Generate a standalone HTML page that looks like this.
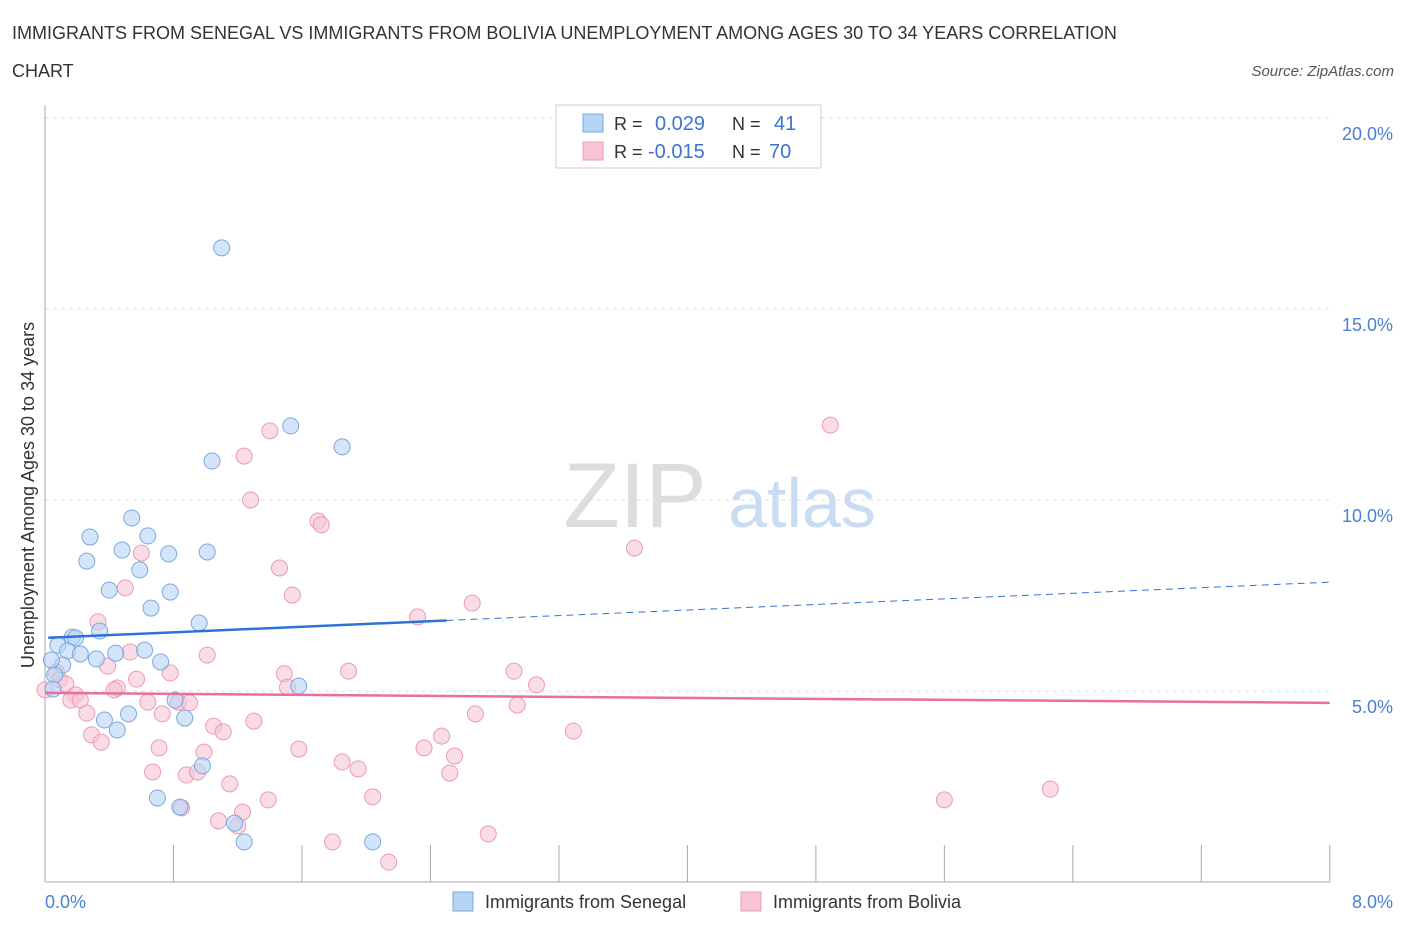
<!DOCTYPE html>
<html><head><meta charset="utf-8"><style>
body{margin:0;background:#fff;font-family:"Liberation Sans",sans-serif;}
svg text{font-family:"Liberation Sans",sans-serif;}
</style></head><body>
<svg id="chart" width="1406" height="930" xmlns="http://www.w3.org/2000/svg">
<text x="12" y="39" font-size="18" fill="#333">IMMIGRANTS FROM SENEGAL VS IMMIGRANTS FROM BOLIVIA UNEMPLOYMENT AMONG AGES 30 TO 34 YEARS CORRELATION</text>
<text x="12" y="77" font-size="18" fill="#333">CHART</text>
<text x="1394" y="76" font-size="15" fill="#555" font-style="italic" text-anchor="end">Source: ZipAtlas.com</text>
<text x="635" y="527" font-size="92" fill="#ddd" font-family="Liberation Serif" text-anchor="middle">ZIP</text>
<text x="802" y="527" font-size="70" fill="#c9dcf3" text-anchor="middle">atlas</text>
<text transform="translate(34,495) rotate(-90)" font-size="18" fill="#333" text-anchor="middle">Unemployment Among Ages 30 to 34 years</text>
<g id="grid"></g><g id="ticks"></g>
<line x1="45" y1="105" x2="45" y2="882" stroke="#aaa"/>
<line x1="45" y1="882" x2="1330" y2="882" stroke="#aaa"/>
<text x="45" y="908" font-size="18" fill="#4a7fd4">0.0%</text>
<text x="1393" y="908" font-size="18" fill="#4a7fd4" text-anchor="end">8.0%</text>
<g id="pts"></g><g id="lines"></g>
<g>
<rect x="556" y="105" width="265" height="63" fill="#fff" stroke="#ccc"/>
<rect x="583" y="114" width="20" height="18" fill="#b8d4f5" stroke="#7aa9e0"/>
<rect x="583" y="142" width="20" height="18" fill="#f7c5d5" stroke="#eb9bb7"/>
<text x="614" y="130" font-size="18" fill="#333">R = </text><text x="655" y="130" font-size="20" fill="#3b74d1">0.029</text>
<text x="732" y="130" font-size="18" fill="#333">N = </text><text x="774" y="130" font-size="20" fill="#3b74d1">41</text>
<text x="614" y="158" font-size="18" fill="#333">R = </text><text x="648" y="158" font-size="20" fill="#3b74d1">-0.015</text>
<text x="732" y="158" font-size="18" fill="#333">N = </text><text x="769" y="158" font-size="20" fill="#3b74d1">70</text>
</g>
<g><rect x="453" y="892" width="20" height="19" fill="#b8d4f5" stroke="#7aa9e0"/><text x="485" y="908" font-size="18" fill="#333">Immigrants from Senegal</text></g>
<g><rect x="741" y="892" width="20" height="19" fill="#f7c5d5" stroke="#eb9bb7"/><text x="773" y="908" font-size="18" fill="#333">Immigrants from Bolivia</text></g>
</svg>
<script>
const yTicks=[5,10,15,20];
const yTickLabels=["5.0%","10.0%","15.0%","20.0%"];
const xTicks=[0.8,1.6,2.4,3.2,4.0,4.8,5.6,6.4,7.2,8.0];
const senegalX=[1.10,1.53,1.85,1.04,0.54,0.64,0.28,0.48,0.77,1.01,0.26,0.59,0.40,0.78,0.66,0.96,0.17,0.19,0.34,0.08,0.14,0.22,0.44,0.62,0.32,0.72,0.11,0.04,0.06,1.58,0.05,0.81,0.37,0.52,0.87,0.45,0.98,0.70,0.84,1.18,1.24,2.04];
const senegalY=[16.60,11.94,11.39,11.02,9.53,9.06,9.03,8.69,8.59,8.64,8.40,8.17,7.64,7.59,7.17,6.78,6.41,6.39,6.57,6.20,6.05,5.97,5.99,6.07,5.84,5.76,5.68,5.81,5.42,5.13,5.05,4.76,4.24,4.40,4.29,3.98,3.04,2.20,1.96,1.54,1.05,1.05];
const boliviaX=[4.89,1.40,1.24,1.28,1.70,1.72,3.67,0.60,1.46,0.50,1.54,2.32,2.66,0.33,1.01,0.53,0.39,1.49,1.89,2.92,0.78,3.06,0.57,0.07,0.09,0.13,1.51,0.45,0.43,0.19,0.16,0.22,0.83,0.90,0.64,2.94,2.68,0.26,0.73,1.30,1.05,1.11,3.29,0.29,2.47,0.35,0.71,1.58,2.36,0.99,2.55,1.85,1.95,0.67,0.88,0.95,2.52,1.15,2.04,1.39,5.60,6.26,1.23,0.85,1.08,1.20,2.76,1.79,2.14,0.00];
const boliviaY=[11.96,11.81,11.15,10.00,9.45,9.35,8.74,8.61,8.22,7.70,7.51,6.94,7.30,6.81,5.94,6.02,5.65,5.45,5.52,5.52,5.47,5.16,5.31,5.50,5.29,5.18,5.10,5.08,5.03,4.90,4.76,4.76,4.71,4.69,4.71,4.63,4.40,4.42,4.40,4.21,4.08,3.93,3.95,3.85,3.82,3.66,3.51,3.48,3.51,3.40,3.30,3.14,2.96,2.88,2.80,2.88,2.85,2.57,2.23,2.15,2.15,2.43,1.83,1.94,1.60,1.47,1.26,1.05,0.52,5.03];
const senegalTrend=[6.39,7.85];
const boliviaTrend=[4.95,4.69];
const NS="http://www.w3.org/2000/svg";
const sx=v=>45+v*160.6, sy=v=>882-v*38.2;
function mk(t,a,p){const e=document.createElementNS(NS,t);for(const k in a)e.setAttribute(k,a[k]);document.getElementById(p).appendChild(e);return e;}
yTicks.forEach((t,i)=>{
 const l=mk('line',{x1:45,x2:1330,y1:sy(t),y2:sy(t),stroke:'#ddd','stroke-dasharray':'4,4'},'grid');
 
 
 const tx=mk('text',{x:1393,y:sy(t)+22,'font-size':18,fill:'#4a7fd4','text-anchor':'end'},'grid');
 tx.textContent=yTickLabels[i];
 
 
});
xTicks.forEach(t=>{
 const l=mk('line',{x1:sx(t),x2:sx(t),y1:845,y2:882,stroke:'#aaa'},'ticks');
 
 
});
boliviaX.forEach((x,i)=>{
 const c=mk('circle',{cx:sx(x),cy:sy(boliviaY[i]),r:8,fill:'#f7c5d5','fill-opacity':0.6,stroke:'#eb9bb7','stroke-width':1},'pts');
 
 
});
senegalX.forEach((x,i)=>{
 const c=mk('circle',{cx:sx(x),cy:sy(senegalY[i]),r:8,fill:'#b8d4f5','fill-opacity':0.6,stroke:'#7aa9e0','stroke-width':1},'pts');
 
 
});
const sAt=x=>senegalTrend[0]+(senegalTrend[1]-senegalTrend[0])*x/8;
let l1=mk('line',{x1:sx(0.02),y1:sy(sAt(0.02)),x2:sx(2.5),y2:sy(sAt(2.5)),stroke:'#2f72d6','stroke-width':2.5},'lines');


let l2=mk('line',{x1:sx(2.5),y1:sy(sAt(2.5)),x2:sx(8),y2:sy(sAt(8)),stroke:'#2f72d6','stroke-width':1,'stroke-dasharray':'7,5'},'lines');


let l3=mk('line',{x1:sx(0),y1:sy(boliviaTrend[0]),x2:sx(8),y2:sy(boliviaTrend[1]),stroke:'#e8709a','stroke-width':2.5},'lines');


</script>
</body></html>
